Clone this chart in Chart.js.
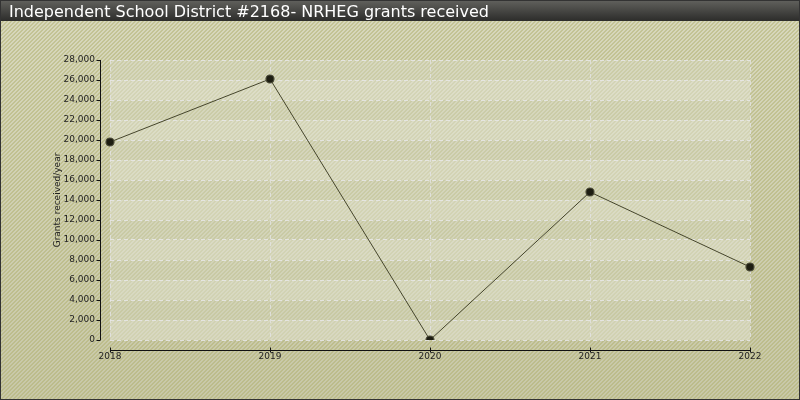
<!DOCTYPE html>
<html>
<head>
<meta charset="utf-8">
<script src="https://cdn.jsdelivr.net/npm/chart.js@4"></script>
<style>
html,body{margin:0;padding:0;background:#cfcfb2;}
#wrap{width:800px;height:400px;position:relative;}
</style>
</head>
<body>
<div id="wrap"><canvas id="c" width="800" height="400"></canvas></div>
<script>
const titleText = "Independent School District #2168- NRHEG grants received";
const yAxisTitle = "Grants received/year";
const years = ["2018", "2019", "2020", "2021", "2022"];
const grants = [19800, 26100, 0, 14800, 7300];
const yMin = 0;
const yMax = 28000;
const yStep = 2000;

const FONT = "'DejaVu Sans', Verdana, sans-serif";

function makeStripe(c2) {
  const p = document.createElement('canvas');
  p.width = 4; p.height = 4;
  const g = p.getContext('2d');
  g.fillStyle = c2;
  for (let i = 0; i < 4; i++) {
    g.fillRect(3 - i, i, 1, 1);
    g.fillRect((3 - i + 1) % 4, i, 1, 1);
  }
  return p;
}

const bgPlugin = {
  id: 'bg',
  beforeDraw(chart) {
    const ctx = chart.ctx;
    const W = chart.width, H = chart.height;
    ctx.save();
    const gr = ctx.createLinearGradient(0, 0, 0, H);
    gr.addColorStop(0, '#d8d8bd');
    gr.addColorStop(1, '#c8c8a8');
    ctx.fillStyle = gr;
    ctx.fillRect(0, 0, W, H);
    const pat = ctx.createPattern(makeStripe('rgba(175,175,110,0.5)'), 'repeat');
    ctx.fillStyle = pat;
    ctx.fillRect(0, 0, W, H);

    // plot area bands
    const a = chart.chartArea;
    const ys = chart.scales.y;
    ctx.fillStyle = 'rgba(225,227,210,0.3)';
    ctx.fillRect(a.left, a.top, a.right - a.left, a.bottom - a.top);
    for (let v = yMin, i = 0; v < yMax; v += yStep, i++) {
      const y1 = ys.getPixelForValue(v);
      const y2 = ys.getPixelForValue(v + yStep);
      ctx.fillStyle = i % 2 === 0 ? 'rgba(232,233,220,0.3)' : 'rgba(205,205,185,0.12)';
      ctx.fillRect(a.left, y2, a.right - a.left, y1 - y2);
    }

    // title bar
    const tg = ctx.createLinearGradient(0, 0, 0, 21);
    tg.addColorStop(0, '#62625e');
    tg.addColorStop(1, '#2c2c2a');
    ctx.fillStyle = tg;
    ctx.fillRect(0, 0, W, 21);
    ctx.fillStyle = '#ffffff';
    ctx.font = '16px ' + FONT;
    ctx.textBaseline = 'alphabetic';
    ctx.textAlign = 'left';
    ctx.fillText(titleText, 9, 17);

    // border
    ctx.strokeStyle = '#333';
    ctx.lineWidth = 1;
    ctx.strokeRect(0.5, 0.5, W - 1, H - 1);
    ctx.restore();
  },
  afterDatasetsDraw(chart) {
    const ctx = chart.ctx;
    const a = chart.chartArea;
    const xs = chart.scales.x, ys = chart.scales.y;
    ctx.save();
    ctx.strokeStyle = '#111';
    ctx.lineWidth = 1;
    ctx.beginPath();
    const ax = a.left - 9.5;
    ctx.moveTo(ax, a.top);
    ctx.lineTo(ax, a.bottom);
    for (let v = yMin; v <= yMax; v += yStep) {
      const y = Math.round(ys.getPixelForValue(v)) + 0.5;
      ctx.moveTo(ax - 4, y);
      ctx.lineTo(ax, y);
    }
    const by = a.bottom + 10.5;
    ctx.moveTo(a.left, by);
    ctx.lineTo(a.right, by);
    for (let i = 0; i < years.length; i++) {
      const x = Math.round(xs.getPixelForValue(i)) + 0.5;
      ctx.moveTo(x, by - 3);
      ctx.lineTo(x, by + 2);
    }
    ctx.stroke();
    ctx.restore();
  }
};

new Chart(document.getElementById('c'), {
  type: 'line',
  data: {
    labels: years,
    datasets: [{
      data: grants,
      borderColor: '#45452c',
      borderWidth: 1,
      pointRadius: 4,
      pointHoverRadius: 4,
      pointBackgroundColor: '#1e1e12',
      pointBorderColor: '#4a4a36',
      pointBorderWidth: 1.2,
      tension: 0,
      fill: false
    }]
  },
  options: {
    responsive: false,
    animation: false,
    devicePixelRatio: 1,
    layout: { padding: { top: 60, right: 50, left: 0, bottom: 0 } },
    plugins: { legend: { display: false }, tooltip: { enabled: false }, title: { display: false } },
    scales: {
      x: {
        offset: false,
        afterFit(s) { s.height = 60; },
        grid: { color: 'rgba(228,228,228,0.8)', drawTicks: false },
        border: { display: false, dash: [4, 3] },
        ticks: { padding: 11, color: '#222', font: { family: FONT, size: 9 }, maxRotation: 0 }
      },
      y: {
        min: yMin, max: yMax,
        afterFit(s) { s.width = 110; },
        grid: { color: 'rgba(232,232,232,0.85)', drawTicks: false },
        border: { display: false, dash: [4, 3] },
        ticks: { stepSize: yStep, padding: 15, color: '#222', font: { family: FONT, size: 9 } },
        title: { display: true, text: yAxisTitle, color: '#222', font: { family: FONT, size: 9 }, padding: { top: 52, bottom: 0 } }
      }
    }
  },
  plugins: [bgPlugin]
});
</script>
</body>
</html>
